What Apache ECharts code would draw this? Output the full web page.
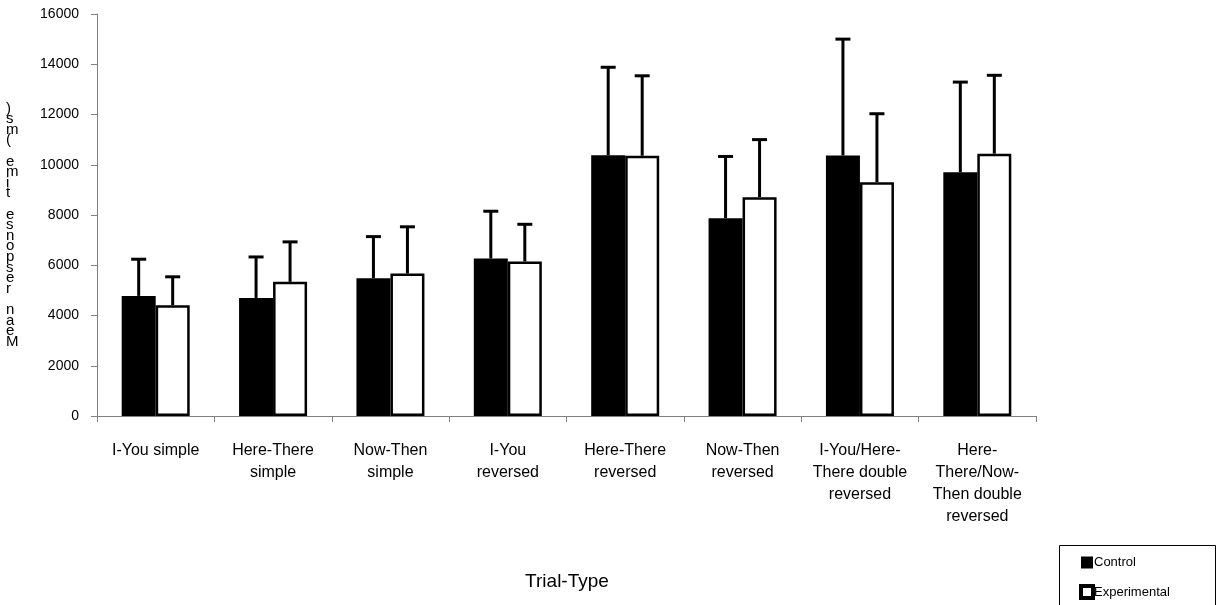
<!DOCTYPE html>
<html>
<head>
<meta charset="utf-8">
<script src="https://cdn.jsdelivr.net/npm/echarts@6/dist/echarts.min.js"></script>
<style>
html,body{margin:0;padding:0;background:#fff;}
#chart{width:1216px;height:605px;}
</style>
</head>
<body>
<div id="chart"></div>
<script>
var categories = ['I-You simple', 'Here-There\nsimple', 'Now-Then\nsimple', 'I-You\nreversed', 'Here-There\nreversed', 'Now-Then\nreversed', 'I-You/Here-\nThere double\nreversed', 'Here-\nThere/Now-\nThen double\nreversed'];
var controlMean = [4780, 4700, 5480, 6270, 10380, 7870, 10370, 9700];
var controlErr = [1460, 1630, 1660, 1880, 3500, 2460, 4630, 3590];
var expMean = [4410, 5340, 5670, 6150, 10360, 8710, 9300, 10440];
var expErr = [1130, 1590, 1860, 1480, 3180, 2290, 2730, 3120];
var yTitle = 'Mean response time (ms)';
var xTitle = 'Trial-Type';
var FONT = '"Liberation Sans", Arial, sans-serif';
var BAR_W = 34;

var chart = echarts.init(document.getElementById('chart'));

function errData(means, errs) {
  return means.map(function (m, i) { return [i, m, m + errs[i]]; });
}
function errRender(offset) {
  return function (params, api) {
    var i = api.value(0);
    var p0 = api.coord([i, api.value(1)]);
    var p1 = api.coord([i, api.value(2)]);
    var x = p0[0] + offset;
    var style = { stroke: '#000', lineWidth: 3 };
    return {
      type: 'group',
      children: [
        { type: 'line', shape: { x1: x, y1: p0[1], x2: x, y2: p1[1] }, style: style },
        { type: 'line', shape: { x1: x - 7.5, y1: p1[1], x2: x + 7.5, y2: p1[1] }, style: style }
      ]
    };
  };
}

var option = {
  backgroundColor: '#fff',
  animation: false,
  grid: { left: 97, right: 180, top: 14, bottom: 189, containLabel: false },
  legend: {
    orient: 'vertical',
    left: 1079,
    top: 556,
    padding: 0,
    itemWidth: 12,
    itemHeight: 12,
    itemGap: 15,
    icon: 'rect',
    textStyle: { fontFamily: FONT, fontSize: 13, color: '#000', padding: [0, 0, 0, -4] },
    data: [
      { name: 'Control', itemStyle: { color: '#000' } },
      { name: 'Experimental', itemStyle: { color: '#fff', borderColor: '#000', borderWidth: 4 } }
    ]
  },
  xAxis: {
    type: 'category',
    data: categories,
    axisLine: { lineStyle: { color: '#808080', width: 1 } },
    axisTick: { show: true, length: 6, alignWithLabel: false, lineStyle: { color: '#808080' } },
    axisLabel: { interval: 0, margin: 24, fontFamily: FONT, fontSize: 16, lineHeight: 22, color: '#000', align: 'center' }
  },
  yAxis: {
    type: 'value',
    min: 0,
    max: 16000,
    interval: 2000,
    splitLine: { show: false },
    axisLine: { show: true, lineStyle: { color: '#808080', width: 1 } },
    axisTick: { show: true, length: 6, lineStyle: { color: '#808080' } },
    axisLabel: { margin: 18, fontFamily: FONT, fontSize: 14, color: '#000', formatter: function (v) { return String(v); } }
  },
  graphic: [
    {
      type: 'text', left: 6, top: 101, z: 10,
      style: {
        text: yTitle.split('').reverse().join('\n'),
        font: '15px ' + FONT, fill: '#000', lineHeight: 10.6, align: 'center'
      }
    },
    {
      type: 'text', x: 567, y: 572, z: 10,
      style: { text: xTitle, font: '19px ' + FONT, fill: '#000', align: 'center' }
    },
    {
      type: 'rect', left: 1059, top: 545, z: -1,
      shape: { width: 156, height: 70 },
      style: { fill: '#fff', stroke: '#000', lineWidth: 1 }
    }
  ],
  series: [
    {
      name: 'Control', type: 'bar', data: controlMean, barWidth: BAR_W, barGap: '0%',
      itemStyle: { color: '#000', borderColor: '#000', borderWidth: 0 }
    },
    {
      name: 'Experimental', type: 'bar', data: expMean, barWidth: BAR_W, barGap: '0%',
      itemStyle: { color: '#fff', borderColor: '#000', borderWidth: 2.5 }
    },
    {
      name: 'ControlErr', type: 'custom', data: errData(controlMean, controlErr),
      renderItem: errRender(-BAR_W / 2), z: 5, silent: true,
      encode: { x: 0, y: [1, 2] }
    },
    {
      name: 'ExpErr', type: 'custom', data: errData(expMean, expErr),
      renderItem: errRender(BAR_W / 2), z: 5, silent: true,
      encode: { x: 0, y: [1, 2] }
    }
  ]
};
chart.setOption(option);
</script>
</body>
</html>
